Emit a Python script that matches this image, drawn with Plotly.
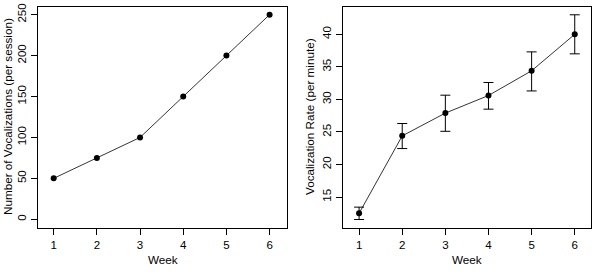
import plotly.graph_objects as go

weeks = [1, 2, 3, 4, 5, 6]
vocal_counts = [50, 75, 100, 150, 200, 250]
vocal_rate = [12.5, 24.4, 27.9, 30.6, 34.4, 40.0]
rate_err_plus = [0.95, 1.9, 2.75, 2.0, 2.9, 3.0]
rate_err_minus = [0.95, 1.95, 2.8, 2.1, 3.1, 3.0]
left_yticks = [0, 50, 100, 150, 200, 250]
right_yticks = [15, 20, 25, 30, 35, 40]

W, H = 600, 275
FONT = "Liberation Sans, Arial, sans-serif"

def px_x(p):
    return p / W

def px_y(p):
    return (H - p) / H

fig = go.Figure()

fig.add_trace(go.Scatter(
    x=weeks, y=vocal_counts, mode="lines+markers",
    line=dict(color="black", width=0.8),
    marker=dict(color="black", size=6),
    xaxis="x", yaxis="y", showlegend=False,
))

fig.add_trace(go.Scatter(
    x=weeks, y=vocal_rate, mode="lines+markers",
    line=dict(color="black", width=0.8),
    marker=dict(color="black", size=6),
    error_y=dict(type="data", array=rate_err_plus, arrayminus=rate_err_minus,
                 color="black", thickness=1, width=5),
    xaxis="x2", yaxis="y2", showlegend=False,
))

axis_common = dict(
    showgrid=False, zeroline=False, showline=True, mirror=True,
    linecolor="black", linewidth=1, ticks="outside", ticklen=6,
    tickcolor="black", tickwidth=1, automargin=False,
    tickfont=dict(family=FONT, size=11.5, color="black"),
)

yd = [px_y(228.3), px_y(7.3)]

fig.update_layout(
    width=W, height=H,
    margin=dict(l=0, r=0, t=0, b=0, autoexpand=False),
    paper_bgcolor="white", plot_bgcolor="white",
    xaxis=dict(domain=[px_x(37.7), px_x(287.3)], range=[0.63, 6.41],
               tickvals=weeks, anchor="y", **axis_common),
    yaxis=dict(domain=yd, range=[-11, 259], tickvals=left_yticks,
               tickangle=-90, anchor="x", **axis_common),
    xaxis2=dict(domain=[px_x(342.7), px_x(590.7)], range=[0.62, 6.37],
                tickvals=weeks, anchor="y2", **axis_common),
    yaxis2=dict(domain=yd, range=[10.2, 44.15], tickvals=right_yticks,
                tickangle=-90, anchor="x2", **axis_common),
)

title_font = dict(family=FONT, size=11.7, color="black")
annos = [
    dict(text="Week", x=px_x(162.5), y=px_y(259), xanchor="center", yanchor="middle"),
    dict(text="Week", x=px_x(466.7), y=px_y(259), xanchor="center", yanchor="middle"),
    dict(text="Number of Vocalizations (per session)", x=px_x(8), y=px_y(117),
         textangle=-90, xanchor="center", yanchor="middle"),
    dict(text="Vocalization Rate (per minute)", x=px_x(310), y=px_y(117),
         textangle=-90, xanchor="center", yanchor="middle"),
]
for a in annos:
    fig.add_annotation(xref="paper", yref="paper", showarrow=False, font=title_font, **a)

fig.write_html("out.html", config={"displayModeBar": False},
               post_script="document.body.style.margin='0';")
